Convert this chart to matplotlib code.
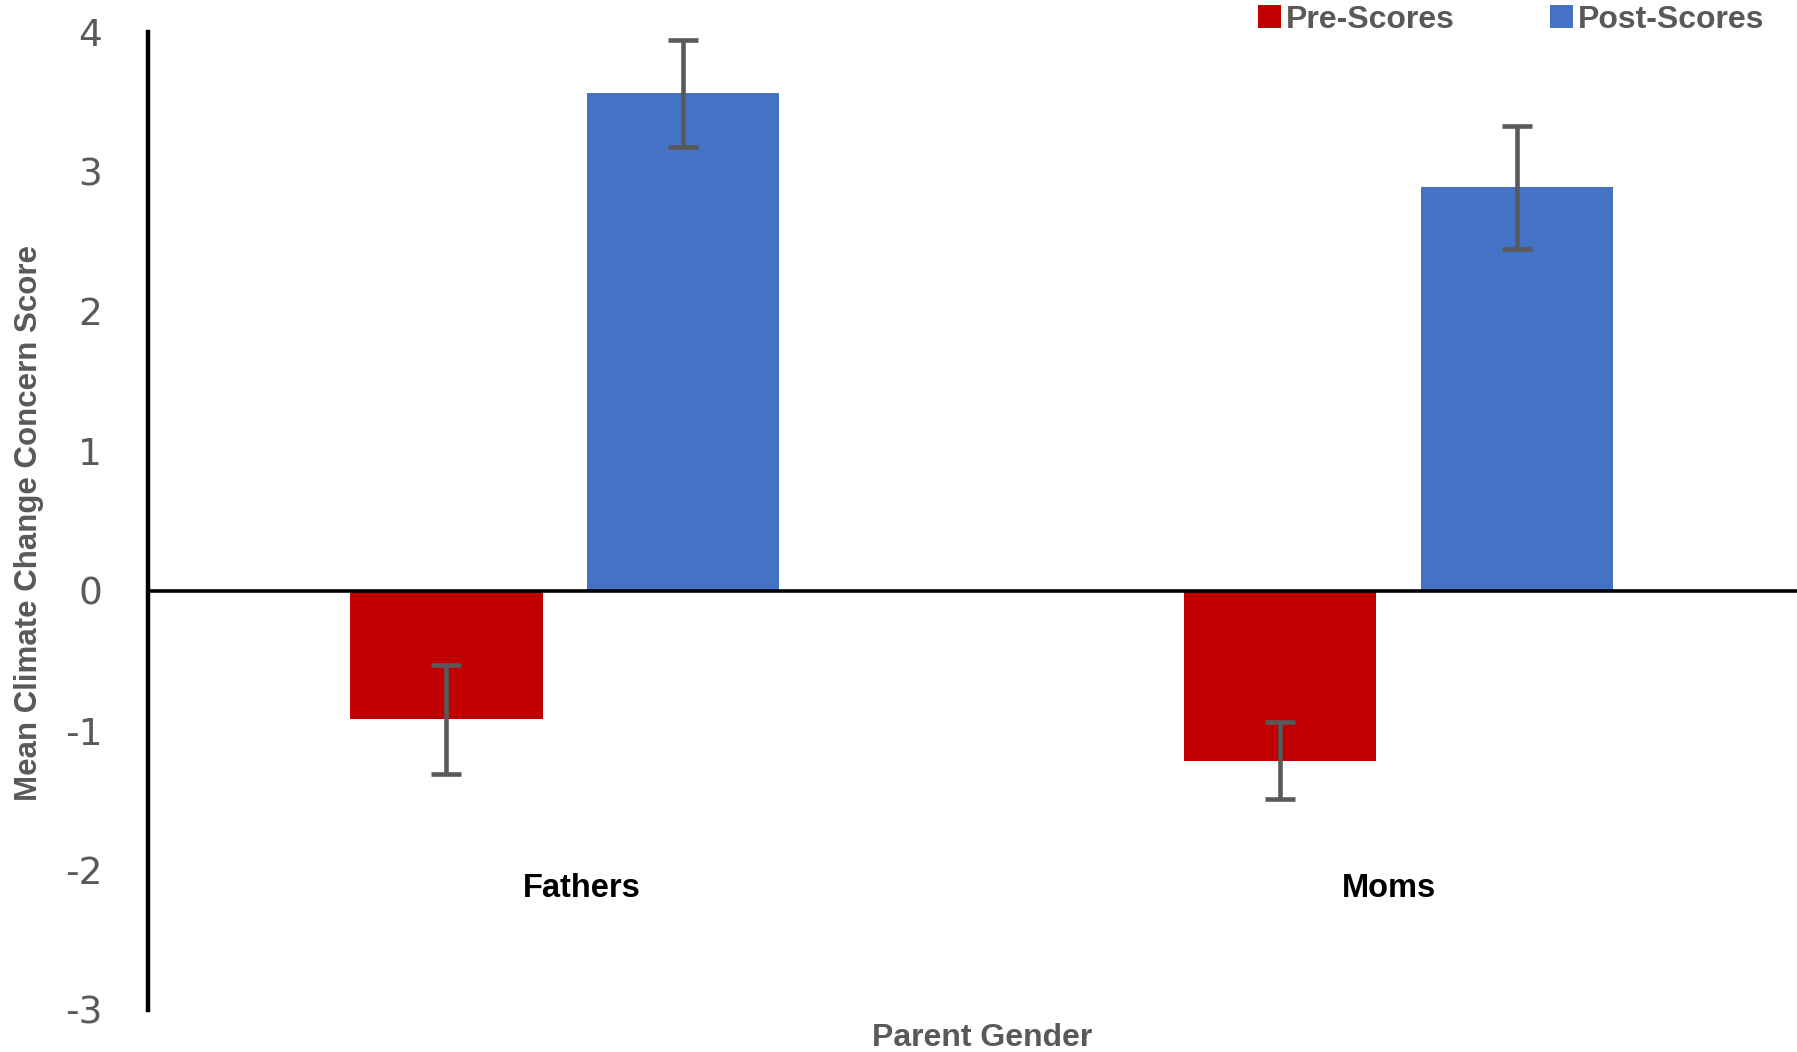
import matplotlib
matplotlib.use("Agg")
import matplotlib.pyplot as plt
from matplotlib.patches import Patch

categories = ["Fathers", "Moms"]
series_names = ["Pre-Scores", "Post-Scores"]
pre_scores = [-0.92, -1.215]
post_scores = [3.56, 2.89]
pre_err = [0.39, 0.275]
post_err = [0.38, 0.44]
y_ticks = [4, 3, 2, 1, 0, -1, -2, -3]

RED = "#C00000"
BLUE = "#4472C4"
GRAY = "#595959"

fig = plt.figure(figsize=(17.97, 10.52), dpi=100)
ax = fig.add_axes([148/1797, 1 - 1010/1052, 1 - 148/1797, (1010 - 32)/1052])

x = list(range(len(categories)))
w = 0.2308
off = 0.142
ax.bar([i - off for i in x], pre_scores, width=w, color=RED, zorder=2)
ax.bar([i + off for i in x], post_scores, width=w, color=BLUE, zorder=2)
ax.errorbar([i - off for i in x], pre_scores, yerr=pre_err, fmt="none",
            ecolor=GRAY, elinewidth=3.3, capsize=11, capthick=3.3, zorder=3)
ax.errorbar([i + off for i in x], post_scores, yerr=post_err, fmt="none",
            ecolor=GRAY, elinewidth=3.3, capsize=11, capthick=3.3, zorder=3)

ax.axhline(0, color="black", lw=2.6, zorder=4)
ax.set_xlim(-0.5, 1.478)
ax.set_ylim(-3, 4)
ax.set_yticks(y_ticks)
ax.set_yticklabels([str(t) for t in y_ticks])
ax.tick_params(axis="y", length=0, pad=33, labelsize=27, labelcolor=GRAY)
for lab in ax.get_yticklabels():
    lab.set_family("DejaVu Sans")
ax.set_xticks([])
for s in ["top", "right", "bottom"]:
    ax.spines[s].set_visible(False)
ax.spines["left"].set_linewidth(3.2)
ax.spines["left"].set_color("black")

for i, c in enumerate(categories):
    ax.text(i + (0.02 if i == 0 else -0.012), -2.13, c, ha="center", va="center",
            fontsize=23.5, fontweight="bold", color="black", family="Liberation Sans")

fig.text(982/1797, 1 - 1038/1052, "Parent Gender", ha="center", va="center",
         fontsize=23, fontweight="bold", color=GRAY, family="Liberation Sans")
fig.text(29/1797, 1 - 523/1052, "Mean Climate Change Concern Score", ha="center",
         va="center", rotation=90, fontsize=22.5, fontweight="bold", color=GRAY,
         family=["Liberation Sans Narrow", "Liberation Sans"])

handles = [Patch(facecolor=RED), Patch(facecolor=BLUE)]
leg = fig.legend(handles, series_names, loc="center right", ncol=2,
                 bbox_to_anchor=(1764/1797, 1 - 19.5/1052), frameon=False,
                 handlelength=0.7, handleheight=0.7, handletextpad=0.15,
                 columnspacing=3.0, borderaxespad=0, borderpad=0,
                 prop={"family": "Liberation Sans", "weight": "bold", "size": 23})
for t in leg.get_texts():
    t.set_color(GRAY)

fig.savefig("out.png", dpi=100)
